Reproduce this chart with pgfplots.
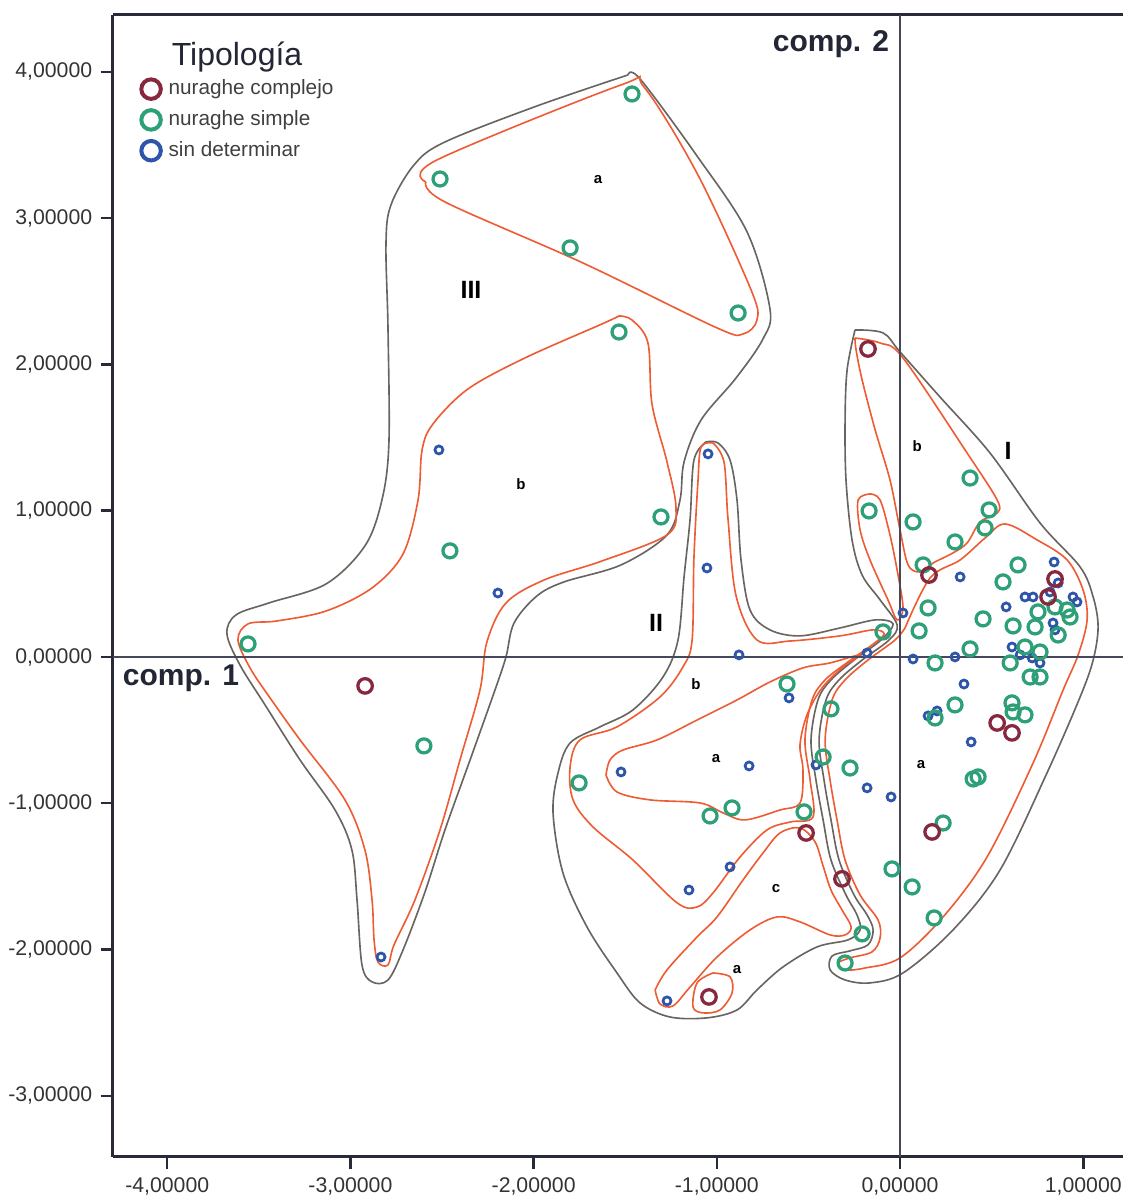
\documentclass[border=0pt]{standalone}
\usepackage{fontspec}
\setmainfont{Liberation Sans}
\usepackage{pgfplots}
\pgfplotsset{compat=1.18}
\pgfplotsset{legend image code/.code={\path[draw=none] (0cm,0cm) (0.45cm,0cm); \draw[mark repeat=2,mark phase=2,#1] plot coordinates {(0cm,0cm) (0.275cm,0cm) (0.55cm,0cm)};}}
\definecolor{cred}{RGB}{135,40,62}
\definecolor{cgreen}{RGB}{45,160,120}
\definecolor{cblue}{RGB}{45,85,170}
\definecolor{lred}{RGB}{238,92,52}
\definecolor{lgray}{RGB}{105,100,95}
\definecolor{caxis}{RGB}{40,42,58}
\definecolor{cref}{RGB}{70,72,92}
\definecolor{ctext}{RGB}{35,38,52}

\pgfplotstableread{
x y
-2.920 -0.198
-0.175 2.105
0.158 0.560
0.846 0.533
0.808 0.410
0.530 -0.451
0.611 -0.519
0.175 -1.196
-0.513 -1.203
-0.317 -1.517
-1.043 -2.324
}\complejo

\pgfplotstableread{
x y
-1.463 3.848
-2.511 3.267
-1.801 2.796
-0.884 2.351
-1.534 2.221
-1.305 0.957
-2.457 0.725
-3.559 0.089
-2.599 -0.608
-1.752 -0.861
-1.037 -1.087
-0.917 -1.032
-0.524 -1.059
-0.617 -0.185
-0.377 -0.355
-0.420 -0.684
-0.273 -0.759
-0.207 -1.893
-0.300 -2.092
-0.093 0.171
-0.169 0.998
0.071 0.923
0.382 1.223
0.486 1.005
0.464 0.882
0.300 0.786
0.126 0.629
0.644 0.629
0.562 0.513
0.153 0.335
0.453 0.260
0.104 0.178
0.617 0.212
0.737 0.205
0.753 0.308
0.846 0.342
0.912 0.321
0.928 0.273
0.863 0.150
0.382 0.055
0.191 -0.041
0.682 0.068
0.764 0.034
0.601 -0.041
0.710 -0.137
0.764 -0.137
0.300 -0.328
0.611 -0.314
0.617 -0.376
0.682 -0.396
0.191 -0.417
0.399 -0.834
0.426 -0.820
0.235 -1.135
-0.044 -1.449
0.066 -1.572
0.186 -1.784
}\simple

\pgfplotstableread{
x y
-2.517 1.415
-2.195 0.437
-2.833 -2.051
-1.048 1.388
-1.054 0.608
-0.879 0.014
-1.523 -0.786
-0.824 -0.745
-0.459 -0.738
-0.606 -0.280
-0.180 0.027
-0.180 -0.895
-0.049 -0.957
-0.928 -1.435
-1.152 -1.593
-1.272 -2.351
0.016 0.301
0.071 -0.014
0.300 0.000
0.328 0.547
0.841 0.649
0.863 0.506
0.819 0.444
0.944 0.410
0.966 0.376
0.682 0.410
0.726 0.410
0.579 0.342
0.835 0.232
0.846 0.185
0.611 0.068
0.655 0.014
0.721 -0.007
0.764 -0.041
0.349 -0.185
0.153 -0.403
0.202 -0.369
0.388 -0.581
}\sindet

\begin{document}
\begin{tikzpicture}
\begin{axis}[
  width=404pt, height=456.8pt, scale only axis,
  xmin=-4.296, xmax=1.217, ymin=-3.418, ymax=4.388,
  axis x line*=box, axis y line*=left,
  x axis line style={-}, y axis line style={-},
  axis line style={line width=1.2pt, color=caxis},
  tick pos=left, tick align=outside,
  major tick length=4.8pt,
  tick style={line width=1pt, color=caxis},
  xtick={-4,-3,-2,-1,0,1},
  xticklabels={{-4,00000},{-3,00000},{-2,00000},{-1,00000},{0,00000},{1,00000}},
  ytick={-3,-2,-1,0,1,2,3,4},
  yticklabels={{-3,00000},{-2,00000},{-1,00000},{0,00000},{1,00000},{2,00000},{3,00000},{4,00000}},
  ticklabel style={font=\fontsize{8.5}{10}\selectfont, text=black!80},
  legend style={draw=none, fill=none, at={(rel axis cs:0.0104,0.9525)}, anchor=north west,
    font=\fontsize{8.3}{9.6}\selectfont, row sep=0.8pt, cells={anchor=west}, text=black!75},
  clip=true,
]
\coordinate (bl) at (rel axis cs:0,0);
\coordinate (tr) at (rel axis cs:1,1);

% legend images
\addlegendimage{only marks, mark=o, mark size=3.9pt, line width=1.6pt, cred}
\addlegendentry{nuraghe complejo}
\addlegendimage{only marks, mark=o, mark size=3.9pt, line width=1.6pt, cgreen}
\addlegendentry{nuraghe simple}
\addlegendimage{only marks, mark=o, mark size=3.9pt, line width=1.6pt, cblue}
\addlegendentry{sin determinar}

% ---------- contours: group III ----------
\addplot[forget plot, lgray, line width=0.65pt, smooth, tension=0.55] coordinates {
(-1.485,3.978) (-1.419,3.951) (-1.108,3.424) (-0.835,2.905) (-0.710,2.379) (-0.748,2.174) (-0.895,1.907) (-1.086,1.620) (-1.179,1.333) (-1.201,1.073) (-1.272,0.834) (-1.523,0.629) (-1.834,0.513) (-1.982,0.417) (-2.107,0.232) (-2.151,0) (-2.211,-0.226) (-2.347,-0.704) (-2.484,-1.182) (-2.593,-1.606) (-2.713,-2.003) (-2.795,-2.208) (-2.882,-2.221) (-2.937,-2.105) (-2.964,-1.661) (-2.992,-1.319) (-3.084,-1.046) (-3.275,-0.704) (-3.466,-0.328) (-3.603,-0.055) (-3.674,0.157) (-3.625,0.287) (-3.445,0.369) (-3.133,0.499) (-2.921,0.759) (-2.828,1.073) (-2.790,1.463) (-2.795,2.249) (-2.806,2.823) (-2.779,3.089) (-2.653,3.363) (-2.484,3.520) (-1.982,3.766) (-1.485,3.978)};
\addplot[forget plot, lred, line width=0.65pt, smooth, tension=0.55] coordinates {
(-2.588,3.247) (-2.528,3.397) (-1.523,3.910) (-1.398,3.896) (-1.103,3.294) (-0.813,2.508) (-0.781,2.303) (-0.857,2.208) (-0.999,2.249) (-1.731,2.693) (-2.484,3.110) (-2.588,3.247)};
\addplot[forget plot, lred, line width=0.65pt, smooth, tension=0.55] coordinates {
(-1.534,2.331) (-1.463,2.303) (-1.376,2.146) (-1.354,1.729) (-1.272,1.333) (-1.223,1.018) (-1.272,0.834) (-1.627,0.656) (-1.943,0.526) (-2.151,0.369) (-2.255,0.103) (-2.293,-0.226) (-2.402,-0.704) (-2.511,-1.182) (-2.648,-1.661) (-2.762,-1.968) (-2.795,-2.105) (-2.850,-2.085) (-2.871,-1.934) (-2.882,-1.661) (-2.921,-1.319) (-3.030,-0.977) (-3.275,-0.567) (-3.450,-0.260) (-3.548,-0.075) (-3.614,0.116) (-3.559,0.226) (-3.401,0.246) (-3.133,0.314) (-2.882,0.472) (-2.713,0.704) (-2.631,1.073) (-2.609,1.415) (-2.549,1.593) (-2.358,1.832) (-2.047,2.044) (-1.627,2.276) (-1.534,2.331)};

% ---------- contours: group I ----------
\addplot[forget plot, lgray, line width=0.65pt, smooth, tension=0.55] coordinates {
(-0.246,2.235) (-0.093,2.215) (0,2.085) (0.218,1.777) (0.491,1.394) (0.764,0.916) (0.983,0.615) (1.054,0.410) (1.081,0.205) (1.054,-0.021) (0.983,-0.273) (0.802,-0.793) (0.546,-1.456) (0.289,-1.866) (0.016,-2.160) (-0.164,-2.228) (-0.300,-2.208) (-0.382,-2.139) (-0.371,-2.044) (-0.273,-2.009) (-0.175,-1.968) (-0.147,-1.866) (-0.180,-1.763) (-0.251,-1.627) (-0.333,-1.388) (-0.377,-1.114) (-0.415,-0.841) (-0.442,-0.567) (-0.404,-0.294) (-0.333,-0.157) (-0.207,-0.021) (-0.060,0.116) (-0.016,0.219) (-0.109,0.390) (-0.207,0.560) (-0.262,0.800) (-0.295,1.210) (-0.300,1.620) (-0.289,1.962) (-0.246,2.235)};
\addplot[forget plot, lred, line width=0.65pt, smooth, tension=0.55] coordinates {
(0.027,0.198) (0.164,0.540) (0.328,0.663) (0.464,0.813) (0.573,0.909) (0.748,0.800) (0.912,0.663) (0.999,0.458) (1.021,0.253) (0.972,0.014) (0.890,-0.226) (0.726,-0.725) (0.475,-1.367) (0.235,-1.777) (0,-2.057) (-0.191,-2.126) (-0.300,-2.139) (-0.338,-2.092) (-0.273,-2.057) (-0.153,-2.016) (-0.109,-1.921) (-0.120,-1.798) (-0.218,-1.627) (-0.300,-1.388) (-0.344,-1.114) (-0.382,-0.841) (-0.409,-0.567) (-0.371,-0.294) (-0.300,-0.157) (-0.175,-0.021) (-0.027,0.116) (0.027,0.198)};
\addplot[forget plot, lred, line width=0.65pt, smooth, tension=0.55] coordinates {
(-0.246,2.180) (-0.109,2.146) (0.016,2.044) (0.366,1.394) (0.530,1.073) (0.530,0.984) (0.437,0.923) (0.366,0.779) (0.289,0.711) (0.180,0.642) (0.109,0.581) (0.044,0.629) (0,0.868) (-0.055,1.210) (-0.136,1.552) (-0.207,1.893) (-0.240,2.098) (-0.246,2.180)};
\addplot[forget plot, lred, line width=0.65pt, smooth, tension=0.55] coordinates {
(-0.164,1.114) (-0.109,1.073) (-0.055,0.834) (-0.011,0.560) (0.016,0.335) (-0.016,0.253) (-0.066,0.390) (-0.164,0.663) (-0.218,0.868) (-0.229,1.073) (-0.164,1.114)};

% ---------- contours: group II ----------
\addplot[forget plot, lgray, line width=0.65pt, smooth, tension=0.55] coordinates {
(-1.059,1.470) (-0.994,1.463) (-0.928,1.346) (-0.890,1.073) (-0.868,0.663) (-0.819,0.321) (-0.710,0.185) (-0.546,0.144) (-0.328,0.198) (-0.136,0.253) (-0.038,0.226) (-0.104,0.116) (-0.251,-0.021) (-0.377,-0.157) (-0.448,-0.294) (-0.486,-0.567) (-0.459,-0.841) (-0.420,-1.114) (-0.377,-1.388) (-0.295,-1.627) (-0.235,-1.763) (-0.218,-1.866) (-0.284,-1.934) (-0.453,-1.982) (-0.639,-2.119) (-0.781,-2.276) (-0.890,-2.413) (-1.054,-2.467) (-1.256,-2.461) (-1.419,-2.365) (-1.545,-2.160) (-1.709,-1.845) (-1.840,-1.476) (-1.894,-1.066) (-1.867,-0.793) (-1.801,-0.588) (-1.638,-0.478) (-1.458,-0.362) (-1.294,-0.137) (-1.212,0.116) (-1.179,0.547) (-1.146,0.943) (-1.125,1.346) (-1.059,1.470)};
\addplot[forget plot, lred, line width=0.65pt, smooth, tension=0.55] coordinates {
(-1.021,1.463) (-0.961,1.333) (-0.939,0.943) (-0.895,0.417) (-0.781,0.116) (-0.600,0.109) (-0.328,0.144) (-0.147,0.185) (-0.087,0.157) (-0.153,0.082) (-0.284,-0.034) (-0.409,-0.157) (-0.480,-0.294) (-0.519,-0.567) (-0.491,-0.841) (-0.475,-1.094) (-0.600,-1.128) (-0.726,-1.182) (-0.873,-1.367) (-1.021,-1.613) (-1.108,-1.709) (-1.217,-1.681) (-1.458,-1.388) (-1.676,-1.162) (-1.785,-0.977) (-1.801,-0.752) (-1.747,-0.567) (-1.545,-0.478) (-1.310,-0.273) (-1.185,-0.068) (-1.135,0.116) (-1.125,0.677) (-1.103,1.203) (-1.086,1.435) (-1.021,1.463)};
\addplot[forget plot, lred, line width=0.65pt, smooth, tension=0.55] coordinates {
(-1.605,-0.807) (-1.545,-0.923) (-1.365,-0.977) (-1.092,-0.998) (-0.966,-1.066) (-0.846,-1.114) (-0.655,-1.046) (-0.546,-0.998) (-0.530,-0.772) (-0.546,-0.601) (-0.508,-0.396) (-0.426,-0.212) (-0.311,-0.068) (-0.218,0.014) (-0.382,-0.041) (-0.530,-0.075) (-0.710,-0.171) (-0.890,-0.294) (-1.108,-0.431) (-1.326,-0.567) (-1.512,-0.636) (-1.583,-0.704) (-1.605,-0.807)};
\addplot[forget plot, lred, line width=0.65pt, smooth, tension=0.55] coordinates {
(-1.337,-2.276) (-1.310,-2.372) (-1.239,-2.385) (-1.146,-2.256) (-0.999,-2.051) (-0.819,-1.866) (-0.671,-1.777) (-0.546,-1.811) (-0.382,-1.900) (-0.300,-1.900) (-0.267,-1.845) (-0.317,-1.729) (-0.377,-1.593) (-0.420,-1.429) (-0.464,-1.264) (-0.546,-1.169) (-0.655,-1.203) (-0.748,-1.340) (-0.857,-1.524) (-0.999,-1.777) (-1.108,-1.914) (-1.272,-2.139) (-1.337,-2.276)};
\addplot[forget plot, lred, line width=0.65pt, smooth, tension=0.55] coordinates {
(-1.021,-2.160) (-0.928,-2.187) (-0.917,-2.297) (-0.983,-2.413) (-1.075,-2.433) (-1.130,-2.392) (-1.108,-2.228) (-1.021,-2.160)};

% ---------- points ----------
\addplot[forget plot, only marks, mark=o, mark size=1.6pt, line width=1.1pt, cblue] table {\sindet};
\addplot[forget plot, only marks, mark=o, mark size=2.8pt, line width=1.3pt, cgreen] table {\simple};
\addplot[forget plot, only marks, mark=o, mark size=2.9pt, line width=1.3pt, cred] table {\complejo};

% ---------- reference lines ----------
\addplot[forget plot, cref, line width=0.8pt] coordinates {(0,-3.418) (0,4.388)};
\addplot[forget plot, cref, line width=0.8pt] coordinates {(-4.296,0) (1.217,0)};

% ---------- texts ----------
\node[font=\fontsize{12.8}{14}\selectfont, text=ctext] at (rel axis cs:0.1228,0.963) {Tipología};
\node[font=\fontsize{12}{14}\selectfont\bfseries, text=ctext] at (axis cs:-0.377,4.190) {comp. 2};
\node[font=\fontsize{12}{14}\selectfont\bfseries, text=ctext] at (axis cs:-3.925,-0.144) {comp. 1};
\node[font=\fontsize{10}{12}\selectfont\bfseries] at (axis cs:-2.342,2.508) {III};
\node[font=\fontsize{10}{12}\selectfont\bfseries] at (axis cs:-1.332,0.232) {II};
\node[font=\fontsize{10}{12}\selectfont\bfseries] at (axis cs:0.590,1.408) {I};
\node[font=\fontsize{6}{7}\selectfont\bfseries] at (axis cs:-1.649,3.260) {a};
\node[font=\fontsize{6}{7}\selectfont\bfseries] at (axis cs:-2.069,1.182) {b};
\node[font=\fontsize{6}{7}\selectfont\bfseries] at (axis cs:0.093,1.442) {b};
\node[font=\fontsize{6}{7}\selectfont\bfseries] at (axis cs:-1.114,-0.185) {b};
\node[font=\fontsize{6}{7}\selectfont\bfseries] at (axis cs:-1.004,-0.697) {a};
\node[font=\fontsize{6}{7}\selectfont\bfseries] at (axis cs:0.115,-0.738) {a};
\node[font=\fontsize{6}{7}\selectfont\bfseries] at (axis cs:-0.677,-1.586) {c};
\node[font=\fontsize{6}{7}\selectfont\bfseries] at (axis cs:-0.890,-2.139) {a};
\end{axis}
\pgfresetboundingbox
\useasboundingbox ([xshift=-45.2pt,yshift=-16.4pt]bl) rectangle ([yshift=6pt]tr);
\end{tikzpicture}
\end{document}
